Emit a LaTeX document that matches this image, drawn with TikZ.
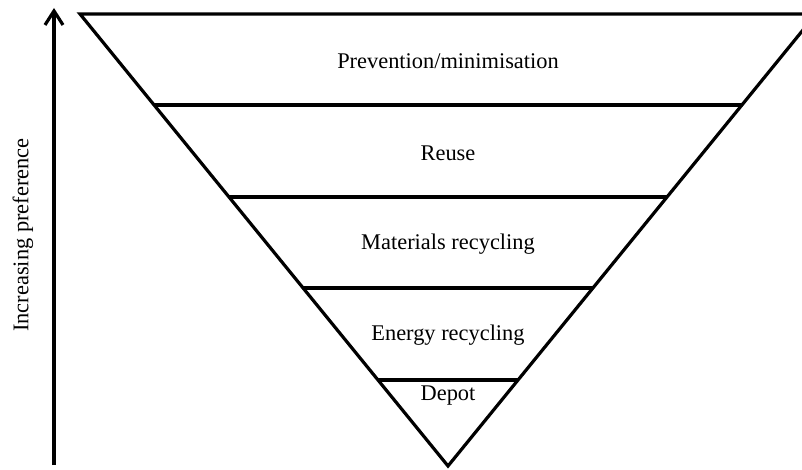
\documentclass[tikz,border=0pt]{standalone}
\usepackage{fontspec}
\setmainfont{Liberation Serif}
\usetikzlibrary{arrows.meta,calc}

\begin{document}
\begin{tikzpicture}[x=0.5pt,y=-0.5pt,
    edge/.style={black,line width=1.6pt},
    band/.style={font=\fontsize{11.2}{13}\selectfont,inner sep=0pt}]
      \useasboundingbox (0,0) rectangle (802,470);
      \clip (0,0) rectangle (802,470);
      \coordinate (tl) at (80,14);
      \coordinate (tr) at (816,14);
      \coordinate (apex) at (448,466);
      \draw [edge,line join=miter] (tl) -- (tr) -- (apex) -- cycle;
      \foreach \y/\name in {105/a,197/b,288/c,380/d} {
        \coordinate (l\name) at ($(tl)!{(\y-14)/452}!(apex)$);
        \coordinate (r\name) at ($(tr)!{(\y-14)/452}!(apex)$);
        \draw [edge] (l\name) -- (r\name);
      }
      \node [band] (prev) at (448,61) {Prevention/minimisation};
      \node [band] (reuse) at (448,153) {Reuse};
      \node [band] (mat) at (448,244) {Materials recycling};
      \node [band] (energy) at (448,335) {Energy recycling};
      \node [band] (depot) at (448,396) {Depot};
      \coordinate (low) at (54,465);
      \coordinate (high) at (54,8);
      \draw [edge,-{Straight Barb[length=7pt,width=9pt,line width=1.6pt]}] (low) -- (high);
      \node [band,rotate=90] (pref) at (23,235) {Increasing preference};
\end{tikzpicture}
\end{document}
